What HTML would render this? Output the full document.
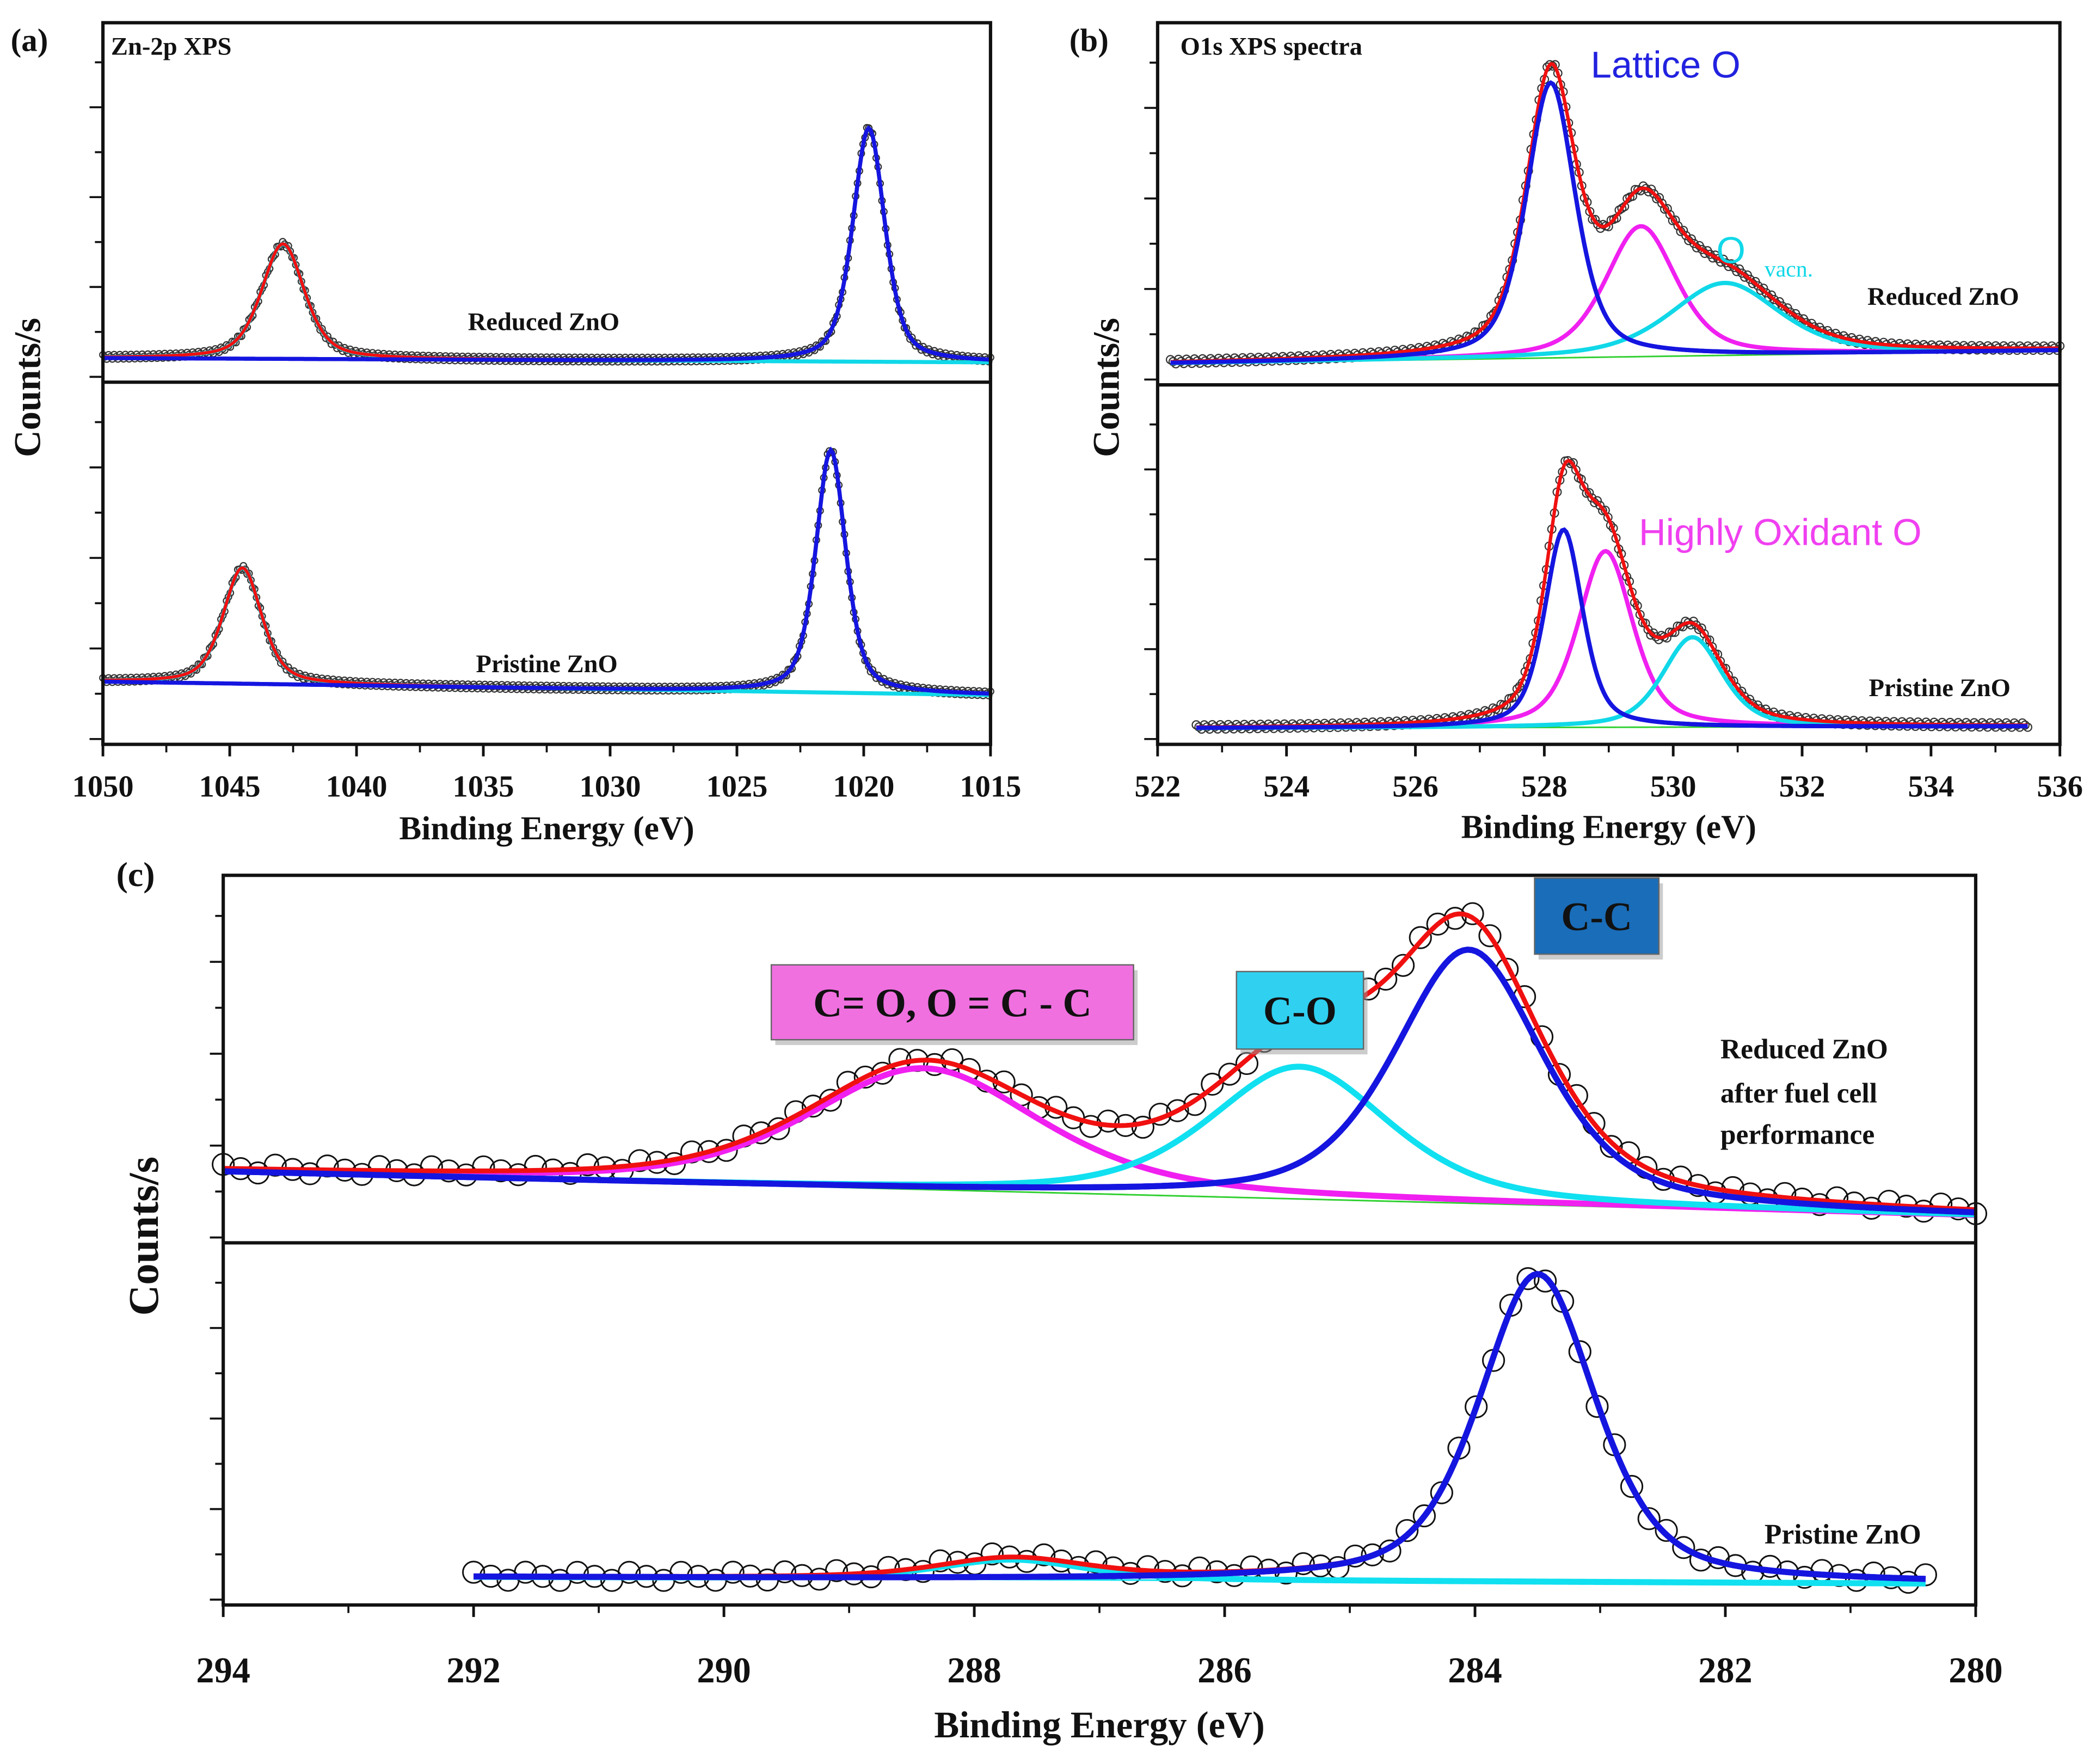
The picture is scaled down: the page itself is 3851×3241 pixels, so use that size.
<!DOCTYPE html>
<html><head><meta charset="utf-8"><style>
html,body{margin:0;padding:0;background:#fff;}
svg{display:block;}
text{font-family:"Liberation Serif",serif;font-weight:bold;fill:#111;}
</style></head><body>
<svg id="fig" width="3851" height="3241" viewBox="0 0 1568 1320" preserveAspectRatio="none" xmlns="http://www.w3.org/2000/svg">
<rect width="1568" height="1320" fill="#fff"/>
<g id="layer"></g>
</svg>
<script>
// ---- Panel (a) Zn-2p data ----
const aTicks = [1050,1045,1040,1035,1030,1025,1020,1015];
const aTopCenters = [1042.9, 1019.8];
const aTopHeights = [32, 65];
const aTopFwhm = [2.0, 1.5];
const aTopBase = [6.7, 5.5];
const aBotCenters = [1044.5, 1021.3];
const aBotHeights = [32, 67];
const aBotFwhm = [1.8, 1.4];
const aBotBase = [17.3, 13.6];
// ---- Panel (b) O1s data ----
const bTicks = [522,524,526,528,530,532,534,536];
const bTopCenters = [528.1, 529.5, 530.8];
const bTopHeights = [76, 36, 20];
const bTopFwhm = [0.9, 1.3, 2.0];
const bTopBase = [5.9, 9.5];
const bBotCenters = [528.3, 528.95, 530.3];
const bBotHeights = [55, 49, 25];
const bBotFwhm = [0.7, 1.0, 1.1];
const bBotBase = [4.5, 5.0];
// ---- Panel (c) C1s data ----
const cTicks = [294,292,290,288,286,284,282,280];
const cTopCenters = [288.4, 285.4, 284.05];
const cTopHeights = [33, 36, 69];
const cTopFwhm = [2.2, 1.7, 1.4];
const cTopBase = [19.3, 7.3];
const cBotCenters = [287.7, 283.5];
const cBotHeights = [5.5, 85];
const cBotFwhm = [1.4, 1.1];
const cBotBase = [7.7, 5.9];

const NS="http://www.w3.org/2000/svg";
const layer=document.getElementById('layer');
function el(tag,attrs,parent){const e=document.createElementNS(NS,tag);for(const k in attrs)e.setAttribute(k,attrs[k]);(parent||layer).appendChild(e);return e;}
function pv(x,c,h,w){const d=(x-c)/(w/2);return h*(0.5*Math.exp(-Math.LN2*d*d)+0.5/(1+d*d));}

function axisX(e0,e1,px0,px1){return e=>px0+(e-e0)/(e1-e0)*(px1-px0);}
function axisY(top,bot){return v=>bot-(v/100)*(bot-top);}

function drawSub(opt){
  const {xs,ys,centers,heights,fwhm,base,lo,hi,colors,lw,baseColor,circR,circStep,dense}=opt;
  const baseAt=e=>base[0]+(base[1]-base[0])*(e-lo)/(hi-lo);
  const N=400;
  const pts=[];for(let i=0;i<=N;i++){pts.push(lo+(hi-lo)*i/N);}
  const path=f=>pts.map((e,i)=>(i?'L':'M')+xs(e).toFixed(2)+' '+ys(f(e)).toFixed(2)).join(' ');
  const env=e=>baseAt(e)+centers.reduce((s,c,k)=>s+pv(e,c,heights[k],fwhm[k]),0);
  const g=el('g',{});
  
  
  const M=Math.round(Math.abs(xs(hi)-xs(lo))/circStep);
  for(let i=0;i<=M;i++){const e=lo+(hi-lo)*i/M;const off=(i%3-1)*(dense?1.6:3);
    el('circle',{cx:xs(e).toFixed(1),cy:(ys(env(e))+off).toFixed(1),r:circR,fill:'none',stroke:dense?'#333':'#111','stroke-width':dense?0.9:1.2},g);}
  const b=el('path',{d:path(baseAt),fill:'none',stroke:baseColor,'stroke-width':1.2});
  
  
  centers.forEach((c,k)=>{
    const p=el('path',{d:path(e=>baseAt(e)+pv(e,c,heights[k],fwhm[k])),fill:'none',stroke:colors[k],'stroke-width':lw});
    
    
  });
  const r=el('path',{d:path(env),fill:'none',stroke:'#f01010','stroke-width':lw*0.8});
  
  
  const k=heights.indexOf(Math.max(...heights));
  const p2=el('path',{d:path(e=>baseAt(e)+pv(e,centers[k],heights[k],fwhm[k])),fill:'none',stroke:colors[k],'stroke-width':lw});
  
  
}

function frame(l,t,r,m,b,ticks,xs,tickSize,ylabel,ylx,yly,xlY,tickY){
  const f=el('rect',{x:l,y:t,width:r-l,height:b-t,fill:'none',stroke:'#111','stroke-width':2.5});
  
  
  el('line',{x1:l,y1:m,x2:r,y2:m,stroke:'#111','stroke-width':2.5});
  ticks.forEach(v=>{
    el('line',{x1:xs(v),y1:b,x2:xs(v),y2:b+9,stroke:'#111','stroke-width':2});
    const tx=el('text',{x:xs(v),y:tickY,'font-size':tickSize,'text-anchor':'middle'});tx.textContent=v;
    
    
  });
  for(let i=0;i<ticks.length-1;i++){const mv=(ticks[i]+ticks[i+1])/2;el('line',{x1:xs(mv),y1:b,x2:xs(mv),y2:b+6,stroke:'#111','stroke-width':1.5});}
  [[t,m],[m,b]].forEach(([a,c])=>{const h=c-a;for(let j=0;j<8;j++){const y=c-4-j*h/8;if(y<a+3)break;el('line',{x1:l,y1:y,x2:l-(j%2?6:10),y2:y,stroke:'#111','stroke-width':1.5});}});
  const yl=el('text',{x:ylx,y:yly,'font-size':ylabel.size,'text-anchor':'middle',transform:`rotate(-90 ${ylx} ${yly})`});yl.textContent='Counts/s';
  
  
  const xl=el('text',{x:(l+r)/2,y:xlY,'font-size':ylabel.xsize,'text-anchor':'middle'});xl.textContent='Binding Energy (eV)';
  
  
}
function txt(x,y,s,size,attrs,name){const t=el('text',Object.assign({x:x,y:y,'font-size':size},attrs||{}));t.textContent=s;
  
  return t;}

// ---------- Panel (a) ----------
const xa=axisX(1050,1015,77,741);
drawSub({xs:xa,ys:axisY(17,286),centers:aTopCenters,heights:aTopHeights,fwhm:aTopFwhm,base:aTopBase,lo:1050,hi:1015,colors:['#10d8e8','#1515e0'],lw:3,baseColor:'#1515e0',circR:2.4,circStep:1.4,dense:true});
drawSub({xs:xa,ys:axisY(286,557),centers:aBotCenters,heights:aBotHeights,fwhm:aBotFwhm,base:aBotBase,lo:1050,hi:1015,colors:['#10d8e8','#1515e0'],lw:3,baseColor:'#1515e0',circR:2.4,circStep:1.4,dense:true});
frame(77,17,741,286,557,aTicks,xa,23,{size:28,xsize:25},30,290,628,596);
txt(8,38,'(a)',24,{},'panel-a-label');
txt(83,41,'Zn-2p XPS',19,{},'panel-a-title');
txt(350,247,'Reduced ZnO',19,{},'reduced-label');
txt(356,503,'Pristine ZnO',19,{},'pristine-label');

// ---------- Panel (b) ----------
const xb=axisX(522,536,866,1541);
drawSub({xs:xb,ys:axisY(17,288),centers:bTopCenters,heights:bTopHeights,fwhm:bTopFwhm,base:bTopBase,lo:522.2,hi:536,colors:['#1515e0','#f020f0','#10d8e8'],lw:3.2,baseColor:'#30d030',circR:3,circStep:2,dense:true});
drawSub({xs:xb,ys:axisY(288,557),centers:bBotCenters,heights:bBotHeights,fwhm:bBotFwhm,base:bBotBase,lo:522.6,hi:535.5,colors:['#1515e0','#f020f0','#10d8e8'],lw:3.2,baseColor:'#30d030',circR:3,circStep:2,dense:true});
frame(866,17,1541,288,557,bTicks,xb,23,{size:28,xsize:25},837,290,627,596);
txt(800,38,'(b)',24,{},'panel-b-label');
txt(883,41,'O1s XPS spectra',19,{},'panel-b-title');
txt(1190,58,'Lattice O',28,{style:'font-family:"Liberation Sans",sans-serif;font-weight:normal;fill:#2222e0'},'lattice-o-label');
txt(1284,197,'O',28,{style:'font-family:"Liberation Sans",sans-serif;font-weight:normal;fill:#10d8e8'},'o-vacancy-label');
txt(1320,207,'vacn.',17,{style:'font-weight:normal;fill:#10d8e8'},'o-vacancy-sub');
txt(1397,228,'Reduced ZnO',19,{},'reduced-label-b');
txt(1398,521,'Pristine ZnO',19,{},'pristine-label-b');
txt(1226,408,'Highly  Oxidant  O',28,{style:'font-family:"Liberation Sans",sans-serif;font-weight:normal;fill:#f040f0'},'highly-oxidant-label');

// ---------- Panel (c) ----------
const xc=axisX(294,280,167,1478);
drawSub({xs:xc,ys:axisY(655,930),centers:cTopCenters,heights:cTopHeights,fwhm:cTopFwhm,base:cTopBase,lo:294,hi:280,colors:['#f020f0','#10e0f0','#1515e0'],lw:4.5,baseColor:'#30d030',circR:8,circStep:13,dense:false});
drawSub({xs:xc,ys:axisY(930,1201),centers:cBotCenters,heights:cBotHeights,fwhm:cBotFwhm,base:cBotBase,lo:292,hi:280.4,colors:['#10e0f0','#1515e0'],lw:4.5,baseColor:'#10e0f0',circR:8,circStep:13,dense:false});
frame(167,655,1478,930,1201,cTicks,xc,27,{size:32,xsize:28},118,925,1300,1259);
txt(87,663,'(c)',26,{},'panel-c-label');
txt(1287,792,'Reduced ZnO',21,{},'reduced-c-line1');
txt(1287,825,'after fuel cell',21,{},'reduced-c-line2');
txt(1287,856,'performance',21,{},'reduced-c-line3');
txt(1320,1155,'Pristine ZnO',21,{},'pristine-c-label');
function box(x,y,w,h,fill,label,size,name,tcol){
  const g=el('g',{});
  
  
  el('rect',{x:x+3,y:y+4,width:w,height:h,fill:'#999',opacity:0.5},g);
  el('rect',{x:x,y:y,width:w,height:h,fill:fill,stroke:'#666','stroke-width':1},g);
  const t=el('text',{x:x+w/2,y:y+h/2+size*0.35,'font-size':size,'text-anchor':'middle',fill:tcol||'#111'},g);t.textContent=label;
}
box(577,722,271,56,'#f070e0','C= O, O = C - C',30,'carbonyl-box');
box(925,727,95,58,'#30d0f0','C-O',30,'c-o-box');
box(1148,657,93,57,'#1a6db8','C-C',30,'c-c-box','#0a1a3a');
</script>
</body></html>
